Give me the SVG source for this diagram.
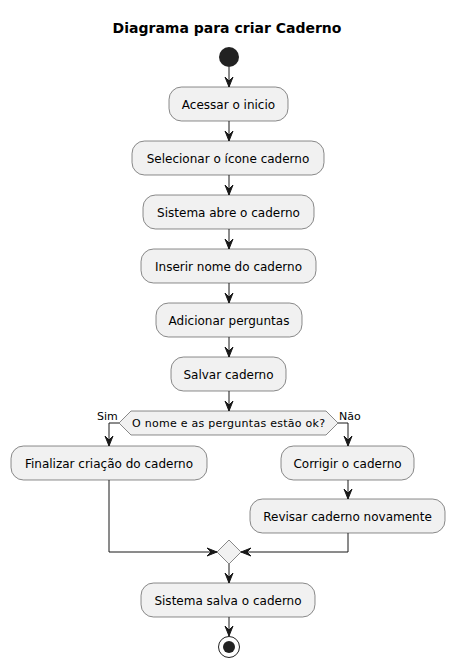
<svg xmlns="http://www.w3.org/2000/svg" width="455" height="669" viewBox="0 0 455 669">
<style>
.box{fill:#F1F1F1;stroke:#181818;stroke-width:0.5}
.t{font-family:"DejaVu Sans",sans-serif;font-size:12px;fill:#000}
.s{font-family:"DejaVu Sans",sans-serif;font-size:11px;fill:#000}
.ln{stroke:#181818;stroke-width:1;fill:none}
.ah{fill:#181818;stroke:#181818;stroke-width:1}
</style>
<rect width="455" height="669" fill="#FFFFFF"/>
<text x="227" y="33" text-anchor="middle" font-family="DejaVu Sans,sans-serif" font-size="14" font-weight="bold">Diagrama para criar Caderno</text>
<g id="start"><circle cx="229" cy="57" r="10" fill="#222222"/></g>
<g id="n1"><rect class="box" x="169" y="87" width="119" height="34" rx="12.5"/><text class="t" x="228.5" y="108.5" text-anchor="middle">Acessar o inicio</text></g>
<g id="n2"><rect class="box" x="132" y="141" width="192" height="34" rx="12.5"/><text class="t" x="228" y="162.5" text-anchor="middle">Selecionar o ícone caderno</text></g>
<g id="n3"><rect class="box" x="143" y="195" width="171" height="34" rx="12.5"/><text class="t" x="228.5" y="216.5" text-anchor="middle">Sistema abre o caderno</text></g>
<g id="n4"><rect class="box" x="141" y="249" width="175" height="34" rx="12.5"/><text class="t" x="228.5" y="270.5" text-anchor="middle">Inserir nome do caderno</text></g>
<g id="n5"><rect class="box" x="156" y="303" width="146" height="34" rx="12.5"/><text class="t" x="229" y="324.5" text-anchor="middle">Adicionar perguntas</text></g>
<g id="n6"><rect class="box" x="171" y="357" width="115" height="34" rx="12.5"/><text class="t" x="228.5" y="378.5" text-anchor="middle">Salvar caderno</text></g>
<g id="decision"><polygon class="box" points="119,423 131,411 326,411 338,423 326,435 131,435"/><text class="s" x="132" y="427" textLength="193" lengthAdjust="spacing">O nome e as perguntas estão ok?</text><text class="s" x="97" y="420">Sim</text><text class="s" x="339" y="420">Não</text></g>
<g id="n7"><rect class="box" x="11" y="446" width="196" height="34" rx="12.5"/><text class="t" x="109" y="467.5" text-anchor="middle">Finalizar criação do caderno</text></g>
<g id="n8"><rect class="box" x="281" y="446" width="133" height="34" rx="12.5"/><text class="t" x="347.5" y="467.5" text-anchor="middle">Corrigir o caderno</text></g>
<g id="n9"><rect class="box" x="250" y="499" width="195" height="34" rx="12.5"/><text class="t" x="347.5" y="520.5" text-anchor="middle">Revisar caderno novamente</text></g>
<g id="merge"><polygon class="box" points="229,540 241,552 229,564 217,552"/></g>
<g id="n10"><rect class="box" x="141" y="583" width="174" height="34" rx="12.5"/><text class="t" x="228" y="604.5" text-anchor="middle">Sistema salva o caderno</text></g>
<g id="end"><circle cx="229" cy="647" r="10.5" fill="none" stroke="#222222" stroke-width="1"/><circle cx="229" cy="647" r="6" fill="#222222"/></g>
<g id="connectors">
<line class="ln" x1="229" y1="67" x2="229" y2="87"/><polygon class="ah" points="225,77 229,87 233,77 229,81"/>
<line class="ln" x1="229" y1="121" x2="229" y2="141"/><polygon class="ah" points="225,131 229,141 233,131 229,135"/>
<line class="ln" x1="229" y1="175" x2="229" y2="195"/><polygon class="ah" points="225,185 229,195 233,185 229,189"/>
<line class="ln" x1="229" y1="229" x2="229" y2="249"/><polygon class="ah" points="225,239 229,249 233,239 229,243"/>
<line class="ln" x1="229" y1="283" x2="229" y2="303"/><polygon class="ah" points="225,293 229,303 233,293 229,297"/>
<line class="ln" x1="229" y1="337" x2="229" y2="357"/><polygon class="ah" points="225,347 229,357 233,347 229,351"/>
<line class="ln" x1="229" y1="391" x2="229" y2="411"/><polygon class="ah" points="225,401 229,411 233,401 229,405"/>
<polyline class="ln" points="119,423 109,423 109,446"/><polygon class="ah" points="105,436 109,446 113,436 109,440"/>
<polyline class="ln" points="338,423 348,423 348,446"/><polygon class="ah" points="344,436 348,446 352,436 348,440"/>
<line class="ln" x1="348" y1="480" x2="348" y2="499"/><polygon class="ah" points="344,489 348,499 352,489 348,493"/>
<polyline class="ln" points="109,480 109,552 217,552"/><polygon class="ah" points="207,548 217,552 207,556 211,552"/>
<polyline class="ln" points="348,533 348,552 241,552"/><polygon class="ah" points="251,548 241,552 251,556 247,552"/>
<line class="ln" x1="229" y1="564" x2="229" y2="583"/><polygon class="ah" points="225,573 229,583 233,573 229,577"/>
<line class="ln" x1="229" y1="617" x2="229" y2="636"/><polygon class="ah" points="225,626 229,636 233,626 229,630"/>
</g>
</svg>
